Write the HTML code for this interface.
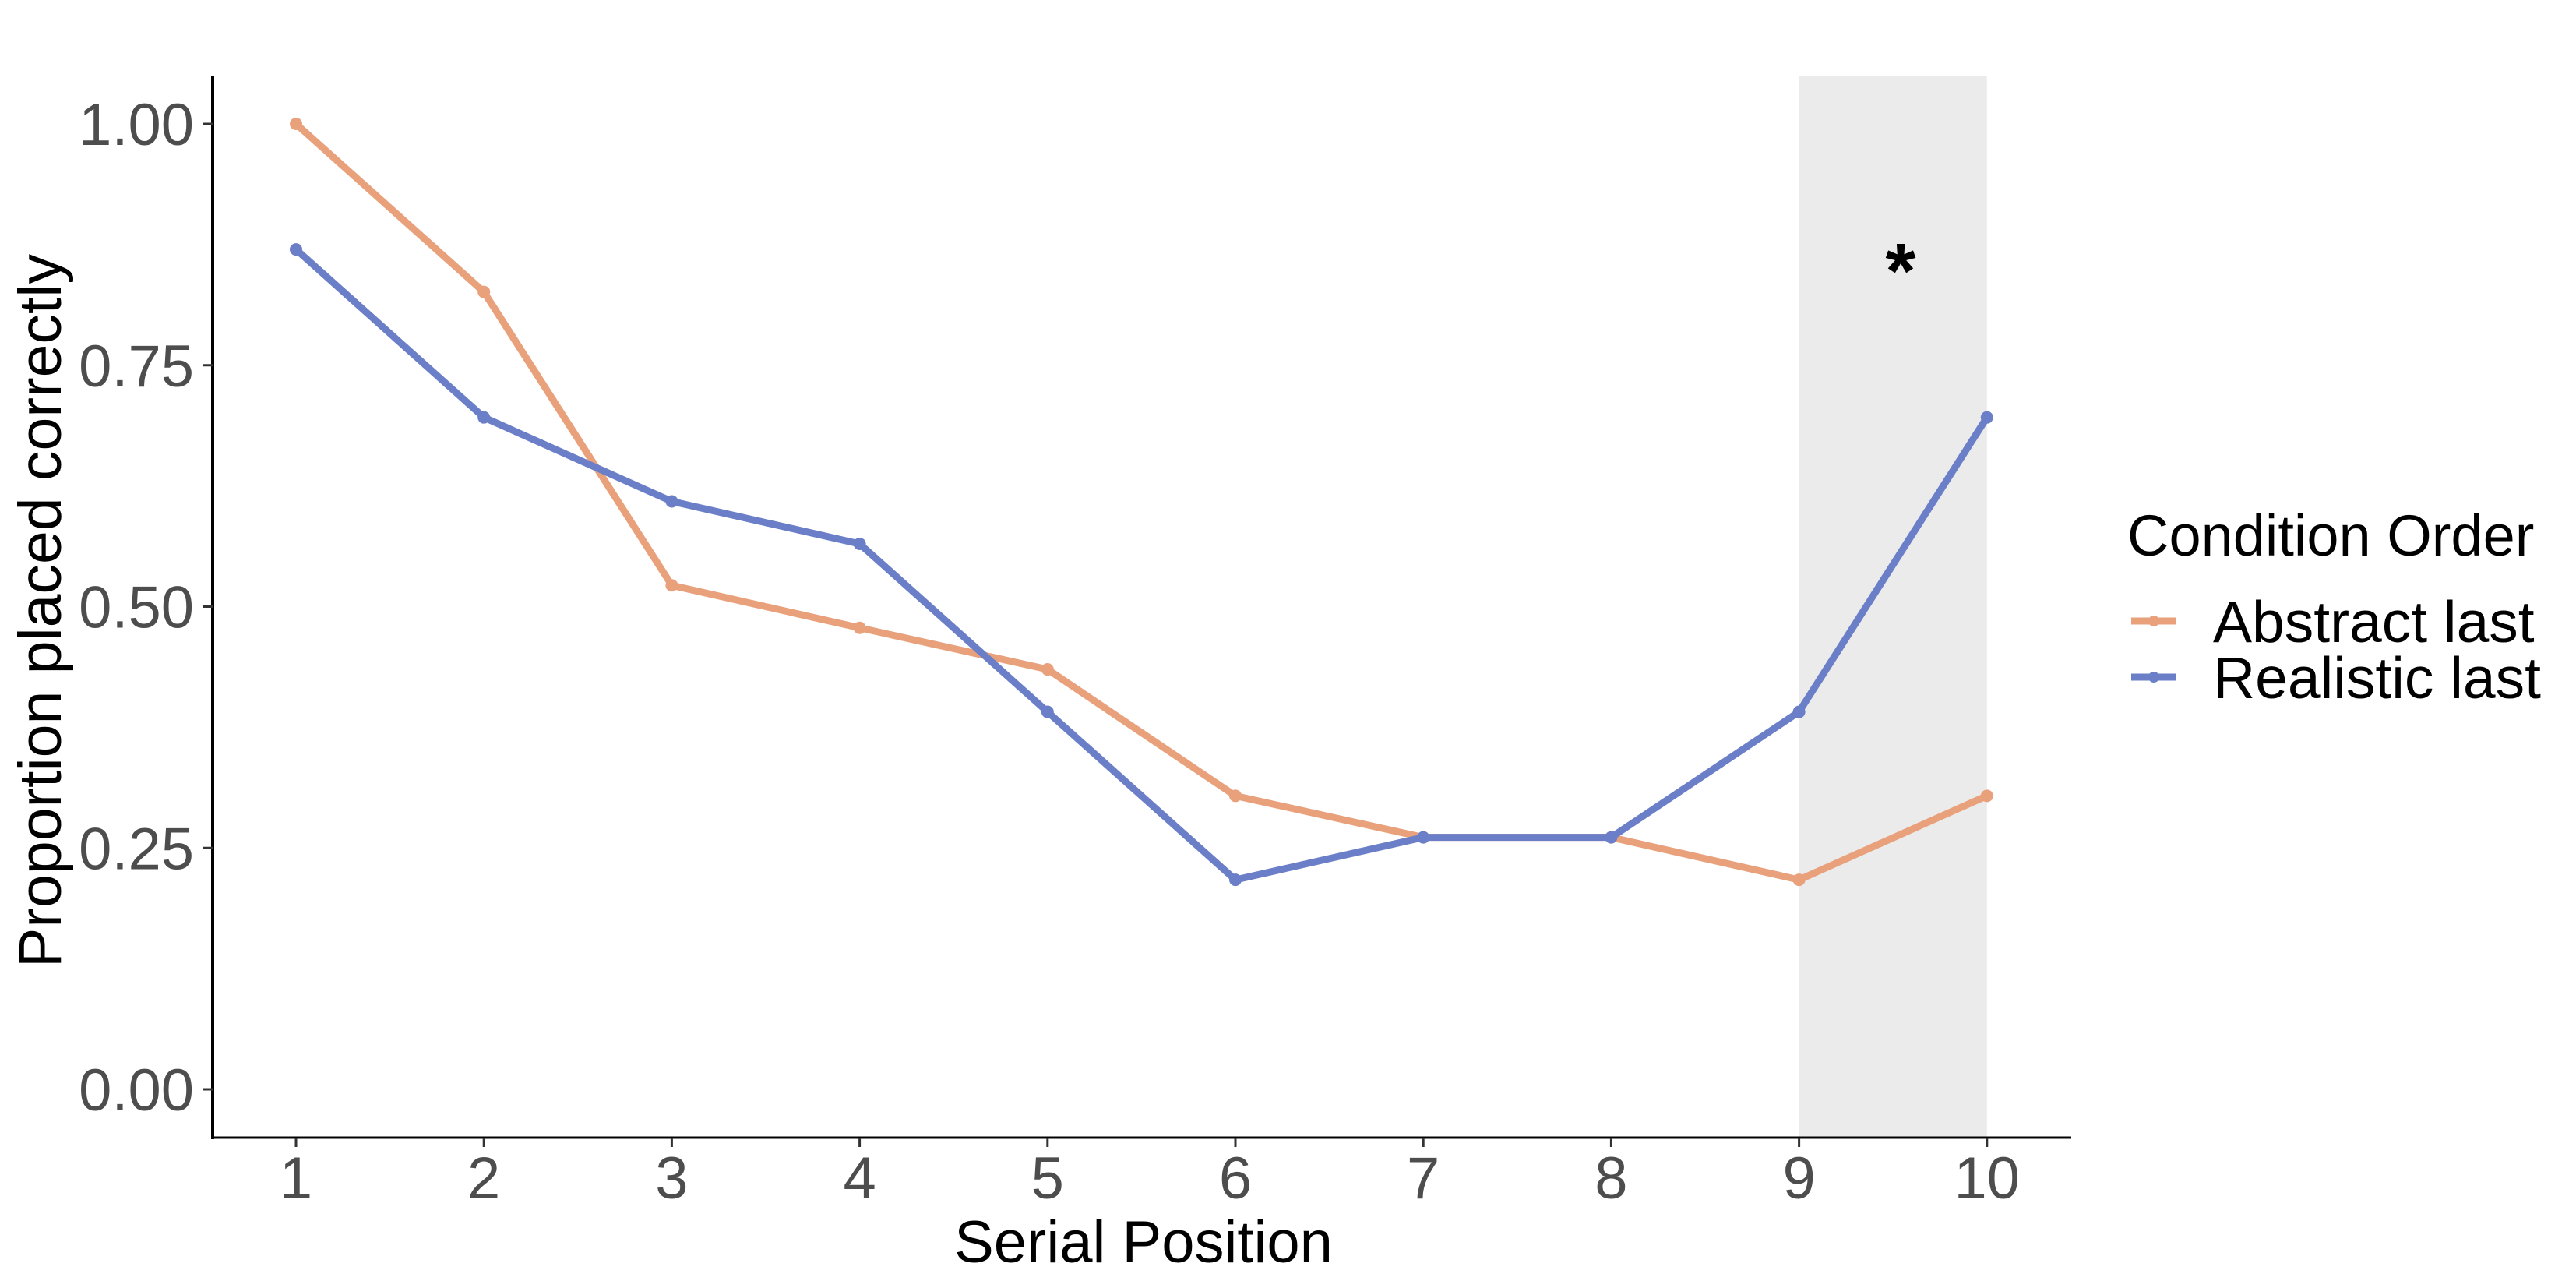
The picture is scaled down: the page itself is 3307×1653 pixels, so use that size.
<!DOCTYPE html>
<html><head><meta charset="utf-8"><style>
html,body{margin:0;padding:0;background:#fff;}
svg{display:block;font-family:"Liberation Sans",Arial,sans-serif;}
</style></head><body>
<svg id="chart" width="3307" height="1653" viewBox="0 0 3307 1653">
<g id="band"></g>
<g id="axes"></g>
<g id="series"></g>
<text x="2440" y="382" font-size="100" font-weight="bold" text-anchor="middle" fill="#000">*</text>
<text transform="translate(78,784) rotate(-90)" font-size="77" text-anchor="middle" fill="#000">Proportion placed correctly</text>
<text x="1468" y="1620" font-size="76" text-anchor="middle" fill="#000">Serial Position</text>
<g>
<text x="2731" y="713" font-size="74" fill="#000">Condition Order</text>
<g>
<line x1="2736" y1="797" x2="2794" y2="797" stroke="#E9A17C" stroke-width="9"/>
<circle cx="2765" cy="797" r="7" fill="#E9A17C"/>
<text x="2841" y="824" font-size="75" fill="#000">Abstract last</text></g>
<g>
<line x1="2736" y1="869" x2="2794" y2="869" stroke="#6B7FC8" stroke-width="9"/>
<circle cx="2765" cy="869" r="7" fill="#6B7FC8"/>
<text x="2841" y="896" font-size="75" fill="#000">Realistic last</text></g>
</g>
</svg>
<script>
const categories = [1,2,3,4,5,6,7,8,9,10];
const abstractLast = [1.00,0.826,0.522,0.478,0.435,0.304,0.261,0.261,0.217,0.304];
const realisticLast = [0.870,0.696,0.609,0.565,0.391,0.217,0.261,0.261,0.391,0.696];
const yTicks = [0,0.25,0.5,0.75,1.0];
const yTickLabels = ["0.00","0.25","0.50","0.75","1.00"];
const bandRange = [9,10];

const NS="http://www.w3.org/2000/svg";
const xs = v => 380 + (v-1)*241.2;
const ys = v => 1398 - v*1239;
function mk(tag, attrs, parent){const e=document.createElementNS(NS,tag);for(const k in attrs)e.setAttribute(k,attrs[k]);parent.appendChild(e);return e;}
const band=document.getElementById('band'), axes=document.getElementById('axes'), series=document.getElementById('series');
const b=mk('rect',{x:xs(bandRange[0]),y:97,width:xs(bandRange[1])-xs(bandRange[0]),height:1460-97,fill:'#EBEBEB'},band);


mk('line',{x1:273,y1:97,x2:273,y2:1462,stroke:'#000','stroke-width':4},axes);
mk('line',{x1:271,y1:1460,x2:2659,y2:1460,stroke:'#000','stroke-width':3},axes);
yTicks.forEach((t,i)=>{
  mk('line',{x1:261,y1:ys(t),x2:273,y2:ys(t),stroke:'#333','stroke-width':3},axes);
  const tx=mk('text',{x:249,y:ys(t)+27,'font-size':76,'text-anchor':'end',fill:'#4D4D4D'},axes);
  tx.textContent=yTickLabels[i];
  
  
});
categories.forEach(c=>{
  mk('line',{x1:xs(c),y1:1460,x2:xs(c),y2:1472,stroke:'#333','stroke-width':3},axes);
  const tx=mk('text',{x:xs(c),y:1538,'font-size':76,'text-anchor':'middle',fill:'#4D4D4D'},axes);
  tx.textContent=String(c);
  
  
});
function draw(vals,color,name){
  const pts=vals.map((v,i)=>xs(categories[i])+','+ys(v)).join(' ');
  const pl=mk('polyline',{points:pts,fill:'none',stroke:color,'stroke-width':9,'stroke-linejoin':'round'},series);
  
  
  vals.forEach((v,i)=>{
    const c=mk('circle',{cx:xs(categories[i]),cy:ys(v),r:8,fill:color},series);
    
    
  });
}
draw(abstractLast,'#E9A17C','abstract-last');
draw(realisticLast,'#6B7FC8','realistic-last');
</script>
</body></html>
